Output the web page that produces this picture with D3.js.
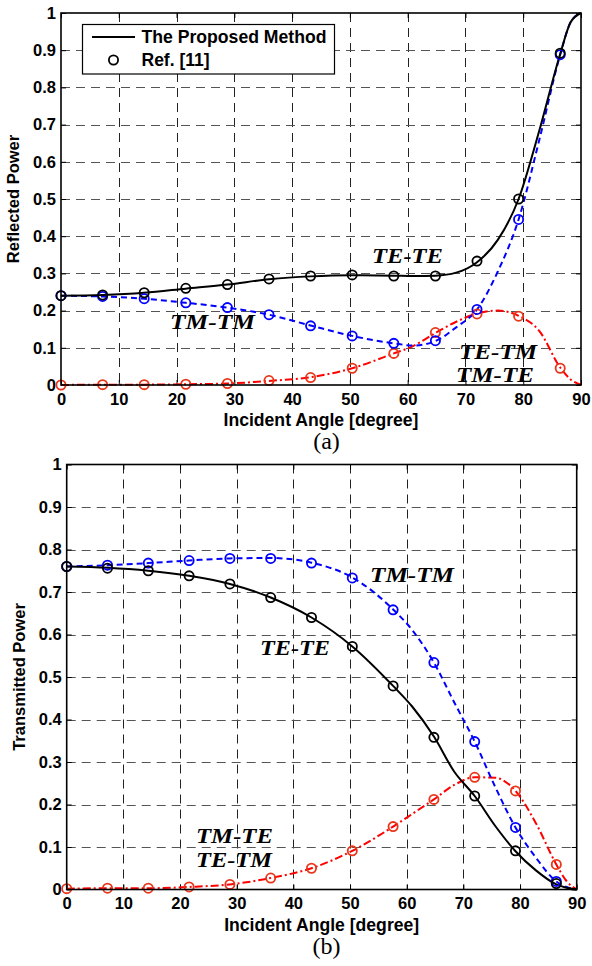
<!DOCTYPE html>
<html>
<head>
<meta charset="utf-8">
<script src="https://cdn.jsdelivr.net/npm/d3@7"></script>
<style>
  body { margin: 0; background: #fff; }
  svg text { font-family: "Liberation Sans", Arial, sans-serif; }
  .tick text { font-weight: bold; font-size: 16.5px; }
  .math { font-family: "Liberation Serif", "Times New Roman", serif !important; font-weight: bold; font-style: italic; font-size: 21px; }
</style>
</head>
<body>
<div id="chart"></div>
<script>
// angles of the Ref. [11] markers
var refAngles = [0, 7.2, 14.4, 21.6, 28.8, 36, 43.2, 50.4, 57.6, 64.8, 72, 79.2, 86.4];
// angles of the proposed-method curves
var lineAngles = [0, 7.2, 14.4, 21.6, 28.8, 36, 43.2, 50.4, 57.6, 61, 64.8, 68.4, 72, 75.6, 79.2, 82.8, 86.4, 88.2, 90];

// (a) reflected power
var reflTETE = [0.240, 0.242, 0.248, 0.259, 0.270, 0.284, 0.292, 0.295, 0.294, 0.293, 0.294, 0.302, 0.330, 0.390, 0.500, 0.685, 0.890, 0.975, 1.0];
var reflTMTM = [0.240, 0.238, 0.232, 0.221, 0.208, 0.189, 0.160, 0.132, 0.112, 0.106, 0.118, 0.155, 0.203, 0.305, 0.445, 0.660, 0.888, 0.975, 1.0];
var reflTETM = [0.000, 0.001, 0.001, 0.002, 0.004, 0.011, 0.021, 0.045, 0.085, 0.105, 0.140, 0.170, 0.192, 0.200, 0.186, 0.145, 0.047, 0.015, 0.0];
var refReflTETE = [0.240, 0.242, 0.248, 0.260, 0.270, 0.285, 0.293, 0.296, 0.293, 0.293, 0.333, 0.500, 0.892];
var refReflTMTM = [0.240, 0.238, 0.232, 0.221, 0.208, 0.189, 0.159, 0.132, 0.112, 0.119, 0.203, 0.445, 0.888];
var refReflTETM = [0.000, 0.001, 0.001, 0.002, 0.004, 0.012, 0.020, 0.045, 0.085, 0.141, 0.191, 0.185, 0.045];

// (b) transmitted power
var tranTETE = [0.760, 0.757, 0.750, 0.738, 0.719, 0.687, 0.640, 0.572, 0.479, 0.430, 0.360, 0.277, 0.220, 0.150, 0.090, 0.045, 0.012, 0.004, 0.0];
var tranTMTM = [0.760, 0.763, 0.768, 0.774, 0.779, 0.780, 0.769, 0.734, 0.659, 0.610, 0.534, 0.440, 0.348, 0.242, 0.146, 0.075, 0.019, 0.006, 0.0];
var tranTETM = [0.002, 0.003, 0.003, 0.006, 0.012, 0.027, 0.050, 0.091, 0.148, 0.178, 0.212, 0.246, 0.264, 0.263, 0.232, 0.156, 0.059, 0.020, 0.0];
var refTranTETE = [0.760, 0.756, 0.750, 0.738, 0.719, 0.687, 0.640, 0.572, 0.479, 0.358, 0.220, 0.091, 0.014];
var refTranTMTM = [0.760, 0.763, 0.768, 0.774, 0.779, 0.779, 0.768, 0.733, 0.658, 0.534, 0.348, 0.146, 0.019];
var refTranTETM = [0.002, 0.003, 0.003, 0.006, 0.012, 0.027, 0.050, 0.091, 0.148, 0.212, 0.264, 0.232, 0.059];

var xTicks = [0, 10, 20, 30, 40, 50, 60, 70, 80, 90];
var yTicks = [0, 0.1, 0.2, 0.3, 0.4, 0.5, 0.6, 0.7, 0.8, 0.9, 1];

var svg = d3.select("#chart").append("svg")
  .attr("width", 592)
  .attr("height", 966);

var styles = {
  tete: {color: "#000", mark: "#000", dash: null},
  tmtm: {color: "#0000ff", mark: "#0000ff", dash: "6,4"},
  tetm: {color: "#ff0000", mark: "#e8361a", dash: "8,3,2,3"}
};

function drawPanel(p) {
  var x = d3.scaleLinear().domain([0, 90]).range([p.left, p.right]),
      y = d3.scaleLinear().domain([0, 1]).range([p.bottom, p.top]),
      g = svg.append("g");

  // dashed grid
  g.append("g").selectAll("line").data(xTicks.slice(1, -1)).enter().append("line")
    .attr("x1", function(d) { return Math.round(x(d)) + 0.5; })
    .attr("x2", function(d) { return Math.round(x(d)) + 0.5; })
    .attr("y1", p.top).attr("y2", p.bottom)
    .attr("stroke", "#222").attr("stroke-dasharray", "9,6");
  g.append("g").selectAll("line").data(yTicks.slice(1, -1)).enter().append("line")
    .attr("y1", function(d) { return Math.round(y(d)) + 0.5; })
    .attr("y2", function(d) { return Math.round(y(d)) + 0.5; })
    .attr("x1", p.left).attr("x2", p.right)
    .attr("stroke", "#555").attr("stroke-dasharray", "9,6");

  // axes, ticks inside like matlab
  var xa = g.append("g").attr("transform", "translate(0," + p.bottom + ")")
    .call(d3.axisBottom(x).tickValues(xTicks).tickSize(-5).tickPadding(8).tickFormat(d3.format("d")));
  var ya = g.append("g").attr("transform", "translate(" + p.left + ",0)")
    .call(d3.axisLeft(y).tickValues(yTicks).tickSize(-5).tickPadding(5).tickFormat(function(d) { return d3.format("~g")(d); }));
  g.append("g").attr("transform", "translate(0," + p.top + ")")
    .call(d3.axisTop(x).tickValues(xTicks).tickSize(-5).tickFormat(""));
  g.append("g").attr("transform", "translate(" + p.right + ",0)")
    .call(d3.axisRight(y).tickValues(yTicks).tickSize(-5).tickFormat(""));
  g.selectAll(".domain").remove();
  g.selectAll(".tick line").attr("stroke", "#000");
  xa.selectAll("text").attr("fill", "#000");
  ya.selectAll("text").attr("fill", "#000");

  // curves of the proposed method
  var line = d3.line()
    .x(function(d) { return x(d[0]); })
    .y(function(d) { return y(d[1]); })
    .curve(d3.curveMonotoneX);

  p.series.forEach(function(s) {
    var st = styles[s.key];
    g.append("path")
      .datum(d3.zip(lineAngles, s.line))
      .attr("d", line)
      .attr("fill", "none")
      .attr("stroke", st.color)
      .attr("stroke-width", 2)
      .attr("stroke-dasharray", st.dash);
  });
  p.series.forEach(function(s) {
    var st = styles[s.key];
    g.append("g").selectAll("circle")
      .data(d3.zip(refAngles, s.ref)).enter().append("circle")
      .attr("cx", function(d) { return x(d[0]); })
      .attr("cy", function(d) { return y(d[1]); })
      .attr("r", 4.6)
      .attr("fill", "none")
      .attr("stroke", st.mark)
      .attr("stroke-width", 1.8);
  });

  // frame
  g.append("rect")
    .attr("x", p.left).attr("y", p.top)
    .attr("width", p.right - p.left).attr("height", p.bottom - p.top)
    .attr("fill", "none").attr("stroke", "#000").attr("stroke-width", 1.6);

  // labels
  g.append("text")
    .attr("x", (p.left + p.right) / 2).attr("y", p.bottom + 41)
    .attr("text-anchor", "middle")
    .attr("font-weight", "bold").attr("font-size", 17.5)
    .attr("textLength", 195).attr("lengthAdjust", "spacingAndGlyphs")
    .text("Incident Angle [degree]");
  g.append("text")
    .attr("transform", "translate(" + p.ylabX + "," + ((p.top + p.bottom) / 2) + ") rotate(-90)")
    .attr("text-anchor", "middle").attr("dy", "0.35em")
    .attr("font-weight", "bold").attr("font-size", 16.5)
    .text(p.ylabel);
  g.append("text")
    .attr("x", 326.5).attr("y", p.bottom + 64)
    .attr("text-anchor", "middle")
    .style("font-family", "'Liberation Serif', 'Times New Roman', serif")
    .attr("font-size", 24)
    .text(p.caption);

  p.notes.forEach(function(n) {
    g.append("text")
      .attr("class", "math")
      .attr("x", n[1]).attr("y", n[2])
      .attr("textLength", n[3]).attr("lengthAdjust", "spacingAndGlyphs")
      .text(n[0]);
  });
  return {x: x, y: y, g: g};
}

var pa = drawPanel({
  left: 61, right: 581, top: 13, bottom: 385,
  ylabel: "Reflected Power", ylabX: 13, caption: "(a)",
  series: [
    {key: "tetm", line: reflTETM, ref: refReflTETM},
    {key: "tmtm", line: reflTMTM, ref: refReflTMTM},
    {key: "tete", line: reflTETE, ref: refReflTETE}
  ],
  notes: [["TE-TE", 372, 263, 71], ["TM-TM", 170, 329, 85], ["TE-TM", 459, 359, 78], ["TM-TE", 456, 381.5, 78]]
});

var pb = drawPanel({
  left: 66.7, right: 576.7, top: 464.5, bottom: 889.5,
  ylabel: "Transmitted Power", ylabX: 19, caption: "(b)",
  series: [
    {key: "tetm", line: tranTETM, ref: refTranTETM},
    {key: "tmtm", line: tranTMTM, ref: refTranTMTM},
    {key: "tete", line: tranTETE, ref: refTranTETE}
  ],
  notes: [["TM-TM", 370, 582, 84], ["TE-TE", 260, 654.5, 70], ["TM-TE", 196, 843, 77], ["TE-TM", 196, 866.5, 76]]
});

// legend (panel a only)
var lg = pa.g.append("g");
lg.append("rect")
  .attr("x", 82.5).attr("y", 24.5).attr("width", 252).attr("height", 49.5)
  .attr("fill", "#fff").attr("stroke", "#000").attr("stroke-width", 1.2);
lg.append("line")
  .attr("x1", 92).attr("x2", 135).attr("y1", 37).attr("y2", 37)
  .attr("stroke", "#000").attr("stroke-width", 2);
lg.append("circle")
  .attr("cx", 113.5).attr("cy", 60).attr("r", 4.6)
  .attr("fill", "none").attr("stroke", "#000").attr("stroke-width", 1.8);
lg.append("text").attr("x", 141.5).attr("y", 43)
  .attr("font-weight", "bold").attr("font-size", 17.5)
  .attr("textLength", 185).attr("lengthAdjust", "spacingAndGlyphs")
  .text("The Proposed Method");
lg.append("text").attr("x", 141.5).attr("y", 66)
  .attr("font-weight", "bold").attr("font-size", 17.5)
  .text("Ref. [11]");
</script>
</body>
</html>
